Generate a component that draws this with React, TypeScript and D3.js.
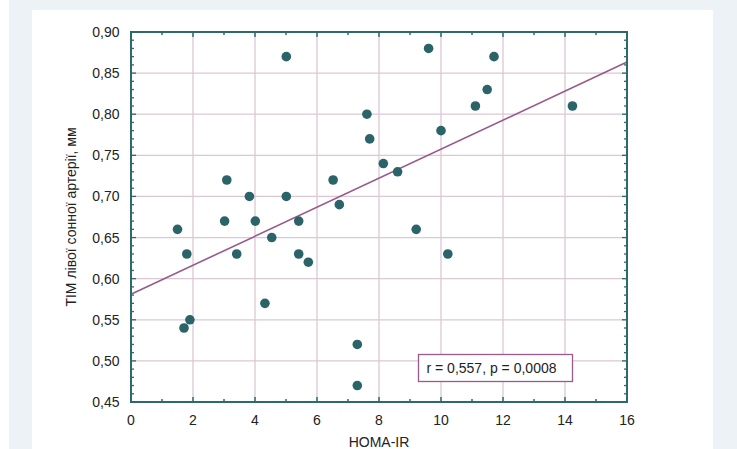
import React from "react";
import * as d3 from "d3";

const homaIR = [1.5, 1.8, 1.71, 1.9, 3.02, 3.09, 3.41, 3.82, 4.01, 4.32, 4.54, 5.01, 5.01, 5.41, 5.41, 5.72, 6.52, 6.72, 7.3, 7.3, 7.61, 7.7, 8.14, 8.6, 9.2, 9.6, 10.0, 10.22, 11.11, 11.49, 11.71, 14.24];
const tim = [0.66, 0.63, 0.54, 0.55, 0.67, 0.72, 0.63, 0.70, 0.67, 0.57, 0.65, 0.87, 0.70, 0.67, 0.63, 0.62, 0.72, 0.69, 0.52, 0.47, 0.80, 0.77, 0.74, 0.73, 0.66, 0.88, 0.78, 0.63, 0.81, 0.83, 0.87, 0.81];
const xTicks = [0, 2, 4, 6, 8, 10, 12, 14, 16];
const yTicks = [0.45, 0.5, 0.55, 0.6, 0.65, 0.7, 0.75, 0.8, 0.85, 0.9];
const regression = { intercept: 0.581, slope: 0.01765 };
const annotation = "r = 0,557, p = 0,0008";
const xLabel = "HOMA-IR";
const yLabel = "ТІМ лівої сонної артерії, мм";

const W = 737, H = 449;
const M = { left: 131, right: 627, top: 32, bottom: 402 };
const FONT = "'Liberation Sans', Arial, sans-serif";
const AXIS = "#2e6a6d";
const GRID = "#dcc7d3";
const DOT = "#2b6468";
const LINE = "#985a8c";

export default function App() {
  const x = d3.scaleLinear().domain([0, 16]).range([M.left, M.right]);
  const y = d3.scaleLinear().domain([0.45, 0.9]).range([M.bottom, M.top]);
  const fmt = (v: number) => v.toFixed(2).replace(".", ",");
  const xMinor = d3.range(0, 16.001, 1);
  const yMinor = d3.range(0, 46).map((i) => 0.45 + i * 0.01);
  const lineGen = d3.line<number>().x((d) => x(d)).y((d) => y(regression.intercept + regression.slope * d));
  const pts = homaIR.map((v, i) => [v, tim[i]]);
  const ax = { x: x(9.3), y: y(0.512) };

  return (
    <div style={{ position: "fixed", left: 0, top: 0 }}>
      <svg width={W} height={H} style={{ display: "block" }}>
        <rect x={0} y={0} width={W} height={H} fill="#ffffff" />
        <rect x={9} y={0} width={W - 9} height={H} fill="#edf2f6" />
        <rect x={32} y={10} width={681} height={H - 10} fill="#ffffff" />
        {/* grid */}
        {xTicks.slice(1, -1).map((t) => (
          <line key={"gx" + t} x1={x(t)} x2={x(t)} y1={M.top} y2={M.bottom} stroke={GRID} strokeWidth={1.3} />
        ))}
        {yTicks.slice(1, -1).map((t) => (
          <line key={"gy" + t} x1={M.left} x2={M.right} y1={y(t)} y2={y(t)} stroke={GRID} strokeWidth={1.3} />
        ))}
        {/* regression line */}
        <path d={lineGen([0, 16]) || ""} stroke={LINE} strokeWidth={1.6} fill="none" />
        {/* points */}
        {pts.map((p, i) => (
          <circle key={i} cx={x(p[0])} cy={y(p[1])} r={4.8} fill={DOT} />
        ))}
        {/* frame */}
        <rect x={M.left} y={M.top} width={M.right - M.left} height={M.bottom - M.top} fill="none" stroke={AXIS} strokeWidth={2} />
        {/* x ticks bottom/top */}
        {xMinor.map((t) => {
          const major = t % 2 === 0;
          const len = major ? 5 : 3;
          return (
            <g key={"xt" + t}>
              <line x1={x(t)} x2={x(t)} y1={M.bottom} y2={M.bottom - len} stroke={AXIS} strokeWidth={1.5} />
              <line x1={x(t)} x2={x(t)} y1={M.top} y2={M.top + len} stroke={AXIS} strokeWidth={1.5} />
            </g>
          );
        })}
        {yMinor.map((t, i) => {
          const major = i % 5 === 0;
          const len = major ? 5 : 3;
          return (
            <g key={"yt" + i}>
              <line x1={M.left} x2={M.left + len} y1={y(t)} y2={y(t)} stroke={AXIS} strokeWidth={1.3} />
              <line x1={M.right} x2={M.right - len} y1={y(t)} y2={y(t)} stroke={AXIS} strokeWidth={1.3} />
            </g>
          );
        })}
        {/* tick labels */}
        {xTicks.map((t) => (
          <text key={"xl" + t} x={x(t)} y={425} textAnchor="middle" fontFamily={FONT} fontSize={14} fill="#222">
            {t}
          </text>
        ))}
        {yTicks.map((t) => (
          <text key={"yl" + t} x={119.5} y={y(t) + 5} textAnchor="end" fontFamily={FONT} fontSize={14} fill="#222">
            {fmt(t)}
          </text>
        ))}
        {/* axis labels */}
        <text x={(M.left + M.right) / 2} y={447} textAnchor="middle" fontFamily={FONT} fontSize={14} fill="#222">
          {xLabel}
        </text>
        <text transform={`translate(76,${(M.top + M.bottom) / 2}) rotate(-90)`} textAnchor="middle" fontFamily={FONT} fontSize={14} fill="#222">
          {yLabel}
        </text>
        {/* annotation */}
        <rect x={418.5} y={354.5} width={154} height={27} fill="#ffffff" stroke={LINE} strokeWidth={1.3} />
        <text x={426.5} y={373} fontFamily={FONT} fontSize={14} fill="#222">
          {annotation}
        </text>
      </svg>
    </div>
  );
}
